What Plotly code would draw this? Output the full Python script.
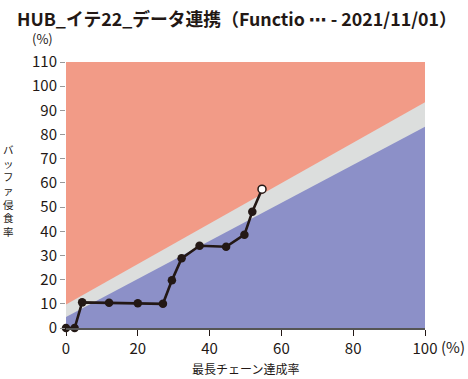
import plotly.graph_objects as go

title_pre = "HUB_イテ22_データ連携（Functio "
title_ellipsis = "⋯"
title_post = " - 2021/11/01）"
chain_pct = [0, 2.4, 4.5, 12, 20, 27, 29.5, 32.2, 37.2, 44.6, 49.7, 51.9, 54.6]
buffer_pct = [0, 0, 10.6, 10.4, 10.2, 10.0, 19.7, 28.8, 34.0, 33.6, 38.6, 48.1, 57.4]
band_x = [0, 100]
green_upper = [4.5, 83.2]
yellow_upper = [9.7, 93.4]
red_upper = [110, 110]
x_ticks = [0, 20, 40, 60, 80, 100]
y_ticks = list(range(0, 111, 10))

RED = "#F29B87"
GRAY = "#DCDEDD"
BLUE = "#8C90C8"
INK = "#231815"
FONT = "Noto Sans CJK JP"

W, H = 468, 379
L, T = 65.5, 62
R = W - 425.5
B = H - 327.7

fig = go.Figure()

def band(upper, color):
    fig.add_trace(go.Scatter(
        x=[band_x[0], band_x[1], band_x[1], band_x[0]],
        y=[0, 0, upper[1], upper[0]],
        fill="toself", fillcolor=color, mode="none",
        hoverinfo="skip", showlegend=False))

band(red_upper, RED)
band(yellow_upper, GRAY)
band(green_upper, BLUE)

fig.add_trace(go.Scatter(
    x=chain_pct, y=buffer_pct,
    mode="lines", line=dict(color=INK, width=2.6), showlegend=False,
    cliponaxis=False))
fig.add_trace(go.Scatter(
    x=chain_pct[:-1], y=buffer_pct[:-1], mode="markers",
    marker=dict(color=INK, size=8.5), showlegend=False, cliponaxis=False))
fig.add_trace(go.Scatter(
    x=[chain_pct[-1]], y=[buffer_pct[-1]], mode="markers",
    marker=dict(color="white", size=8, line=dict(color=INK, width=1.5)),
    showlegend=False, cliponaxis=False))

def ann(text, px, py, size, **kw):
    return dict(text=text, xref="paper", yref="paper",
                x=(px - L) / (W - L - R),
                y=((H - B) - py) / (H - T - B),
                showarrow=False, font=dict(size=size, color=INK, family=FONT),
                xanchor="center", yanchor="middle", **kw)

title_html = ("<b>" + title_pre + "<span style='font-family:DejaVu Sans'>"
              + title_ellipsis + "</span>" + title_post + "</b>")

fig.update_layout(
    width=W, height=H,
    margin=dict(l=L, r=R, t=T, b=B, autoexpand=False),
    paper_bgcolor="white", plot_bgcolor="white",
    font=dict(family=FONT, color=INK, size=14),
    title=dict(text=title_html, x=17 / W, xanchor="left",
               y=1 - 20 / H, yanchor="middle",
               font=dict(size=17.8, color=INK, family=FONT)),
    xaxis=dict(range=[0, 100], tickvals=x_ticks, ticks="outside", ticklen=6,
               tickcolor=INK, showgrid=False, zeroline=False, showline=True,
               linecolor="#555", linewidth=1.5, tickfont=dict(size=15, color=INK)),
    yaxis=dict(range=[0, 110], tickvals=y_ticks, ticks="outside", ticklen=5,
               tickcolor="#999", showgrid=False, zeroline=False, showline=False,
               tickfont=dict(size=15, color=INK)),
    annotations=[
        ann("(%)", 41.7, 38.5, 13),
        ann("(%)", 454, 346, 15),
        ann("最長チェーン達成率", 245, 368, 12),
        ann("バ<br>ッ<br>フ<br>ァ<br>侵<br>食<br>率", 8, 190, 10.5, align="center"),
    ],
)

fig.write_html("out.html", config={"displayModeBar": False},
               post_script="document.body.style.margin='0';document.body.style.padding='0';")
